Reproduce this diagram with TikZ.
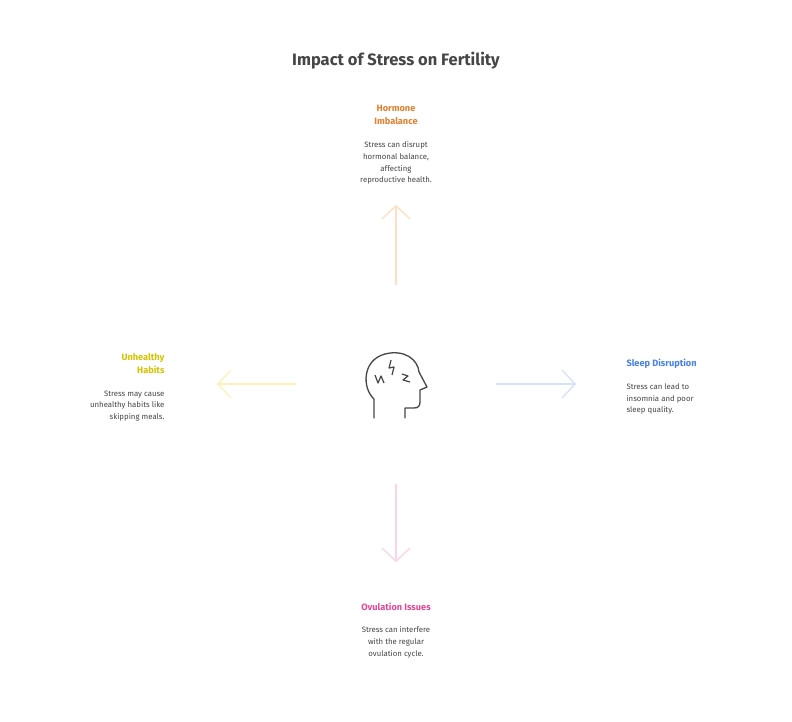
\documentclass[tikz,border=0pt]{standalone}
\usepackage{fontspec}
\setmainfont{Fira Sans}
\usetikzlibrary{arrows.meta}
\definecolor{cOr}{RGB}{226,128,48}
\definecolor{cYe}{RGB}{214,196,0}
\definecolor{cBl}{RGB}{70,128,230}
\definecolor{cPk}{RGB}{228,72,150}
\definecolor{aOr}{RGB}{255,222,196}
\definecolor{aYe}{RGB}{255,241,184}
\definecolor{aBl}{RGB}{214,226,252}
\definecolor{aPk}{RGB}{252,212,232}
\definecolor{txt}{RGB}{70,70,70}
\tikzset{
 ttl/.style={font=\bfseries\fontsize{9.2}{13}\selectfont},
 body/.style={font=\fontsize{7.8}{11.8}\selectfont, text=txt},
 arr/.style={line width=1.3pt, -{Straight Barb[length=13pt,width=28pt,line width=1.3pt]}},
}
\begin{document}
\begin{tikzpicture}[x=1pt,y=-1pt]
\useasboundingbox[fill=white] (0,0) rectangle (792,721);
\node[font=\bfseries\fontsize{16.5}{18}\selectfont, text=txt] (title) at (396,61) {Impact of Stress on Fertility};
% head icon
\node[minimum size=70pt] (head) at (396,384) {};
\draw[txt, line width=1.3pt, line cap=round, line join=round]
 (374,418) -- (374,399) .. controls (362,388) and (362,360) .. (385,354)
 .. controls (405,349) and (418,360) .. (419,372) -- (427,387) -- (420,390) -- (420,402)
 .. controls (420,406) and (418,408) .. (414,408) -- (405,408) -- (405,418);
\draw[txt, line width=1.2pt, line join=round] (375,375) -- (378,383) -- (381,376) -- (384,383);
\draw[txt, line width=1.2pt, line join=round] (391,360) -- (389,368) -- (394,367) -- (392,375);
\draw[txt, line width=1.2pt, line join=round] (402,374) -- (408,376) -- (403,380) -- (410,382);
% arrows
\coordinate (u1) at (396,285); \coordinate (u2) at (396,205);
\coordinate (l1) at (296,384); \coordinate (l2) at (217,384);
\coordinate (r1) at (496,384); \coordinate (r2) at (576,384);
\coordinate (d1) at (396,484); \coordinate (d2) at (396,562);
\draw[arr, aOr] (u1) -- (u2);
\draw[arr, aYe] (l1) -- (l2);
\draw[arr, aBl] (r1) -- (r2);
\draw[arr, aPk] (d1) -- (d2);
% texts
\node[ttl, text=cOr, align=center] (t1) at (396,115) {Hormone\\Imbalance};
\node[body, align=center] (b1) at (396,163) {Stress can disrupt\\hormonal balance,\\affecting\\reproductive health.};
\node[ttl, text=cYe, align=right, anchor=east] (t2) at (168,364) {Unhealthy\\Habits};
\node[body, align=right, anchor=east] (b2) at (168,406) {Stress may cause\\unhealthy habits like\\skipping meals.};
\node[ttl, text=cBl, anchor=west] (t3) at (623,364) {Sleep Disruption};
\node[body, align=left, anchor=west] (b3) at (623,399) {Stress can lead to\\insomnia and poor\\sleep quality.};
\node[ttl, text=cPk] (t4) at (396,607) {Ovulation Issues};
\node[body, align=center] (b4) at (396,642) {Stress can interfere\\with the regular\\ovulation cycle.};
\end{tikzpicture}
\end{document}
